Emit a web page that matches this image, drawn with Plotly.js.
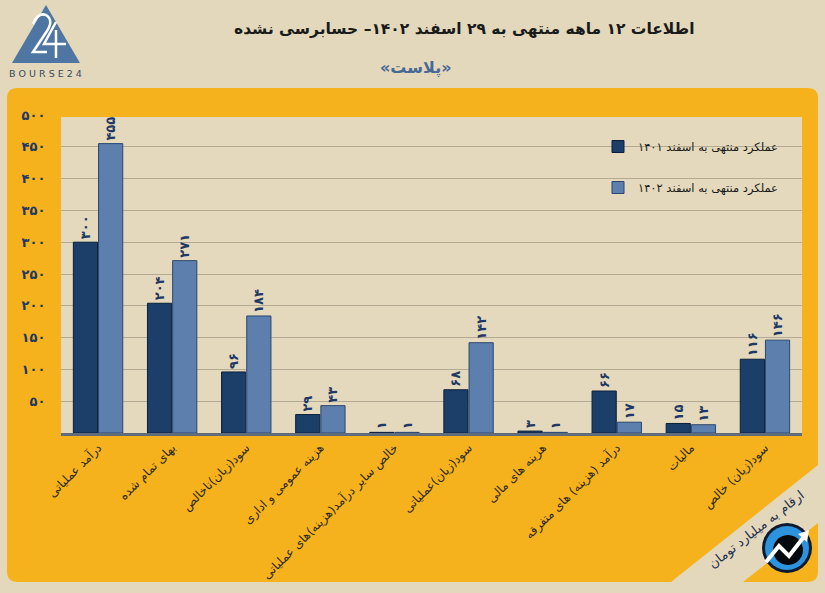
<!DOCTYPE html>
<html>
<head>
<meta charset="utf-8">
<script src="https://cdn.plot.ly/plotly-3.0.1.min.js"></script>
<style>html,body{margin:0;padding:0;background:#E3D8BB;}#chart{width:825px;height:593px;}</style>
</head>
<body>
<div id="chart"></div>
<script>
// ---- data ----
const categories = [
  'درآمد عملیاتی',
  'بهای تمام شده',
  'سود(زیان)ناخالص',
  'هزینه عمومی و اداری',
  'خالص سایر درآمد(هزینه)های عملیاتی',
  'سود(زیان)عملیاتی',
  'هزینه های مالی',
  'درآمد (هزینه) های متفرقه',
  'مالیات',
  'سود(زیان) خالص'
];
const values1401 = [300, 204, 96, 29, 1, 68, 3, 66, 15, 116];
const values1402 = [455, 271, 184, 43, 1, 142, 1, 17, 13, 146];
const seriesNames = ['عملکرد منتهی به اسفند ۱۴۰۱', 'عملکرد منتهی به اسفند ۱۴۰۲'];
const yTickVals = [50, 100, 150, 200, 250, 300, 350, 400, 450, 500];
const yTickText = ['۵۰', '۱۰۰', '۱۵۰', '۲۰۰', '۲۵۰', '۳۰۰', '۳۵۰', '۴۰۰', '۴۵۰', '۵۰۰'];
const titleText = 'اطلاعات ۱۲ ماهه منتهی به ۲۹ اسفند ۱۴۰۲– حسابرسی نشده';
const subtitleText = '«پلاست»';
const unitText = 'ارقام به میلیارد تومان';

// ---- helpers ----
const fa = v => String(v).replace(/\d/g, d => '۰۱۲۳۴۵۶۷۸۹'[d]);
const W = 825, H = 593;
const M = {l: 61, r: 23, t: 115, b: 160};
const PW = W - M.l - M.r, PH = H - M.t - M.b;
const px = x => (x - M.l) / PW;
const py = y => (H - M.b - y) / PH;
const P = (x, y) => px(x).toFixed(5) + ',' + py(y).toFixed(5);

function roundRect(x0, y0, x1, y1, r) {
  return 'M' + P(x0 + r, y0) + ' L' + P(x1 - r, y0) + ' Q' + P(x1, y0) + ' ' + P(x1, y0 + r) +
    ' L' + P(x1, y1 - r) + ' Q' + P(x1, y1) + ' ' + P(x1 - r, y1) +
    ' L' + P(x0 + r, y1) + ' Q' + P(x0, y1) + ' ' + P(x0, y1 - r) +
    ' L' + P(x0, y0 + r) + ' Q' + P(x0, y0) + ' ' + P(x0 + r, y0) + ' Z';
}
function poly(pts) {
  return 'M' + pts.map(p => P(p[0], p[1])).join(' L') + ' Z';
}
function circlePath(cx, cy, r) {
  let s = '';
  const n = 28;
  for (let i = 0; i <= n; i++) {
    const a = i / n * 2 * Math.PI;
    s += (i === 0 ? 'M' : ' L') + P(cx + r * Math.cos(a), cy + r * Math.sin(a));
  }
  return s + ' Z';
}

const FONT = 'DejaVu Sans, Noto Sans, sans-serif';
const ORANGE = '#F6B21C';
const BEIGE = '#E3D8BB';

const traces = [
  {
    type: 'bar', name: seriesNames[0], x: categories, y: values1401,
    legendgroup: 'a',
    marker: {color: '#1C3F6A', line: {color: '#0B1F3A', width: 1}},
    text: values1401.map(fa), textposition: 'outside', textangle: -90,
    constraintext: 'none', cliponaxis: false,
    textfont: {family: FONT, size: 13, color: '#1F3864', weight: 'bold'},
    hoverinfo: 'x+y'
  },
  {
    type: 'bar', name: seriesNames[1], x: categories, y: values1402,
    legendgroup: 'b',
    marker: {color: '#5D7FAD', line: {color: '#2B4770', width: 1}},
    text: values1402.map(fa), textposition: 'outside', textangle: -90,
    constraintext: 'none', cliponaxis: false,
    textfont: {family: FONT, size: 13, color: '#1F3864', weight: 'bold'},
    hoverinfo: 'x+y'
  }
];

const shapes = [
  {type: 'path', xref: 'paper', yref: 'paper', layer: 'below', path: roundRect(7, 88, 818, 582, 10),
   fillcolor: ORANGE, line: {width: 0}},
  {type: 'path', xref: 'paper', yref: 'paper', layer: 'below', path: poly([[61, 117], [802, 117], [802, 433], [61, 433]]),
   fillcolor: '#E4D9BC', line: {width: 0}},
  {type: 'path', xref: 'paper', yref: 'paper', layer: 'below',
   path: poly([[818, 465], [818, 523], [743, 582], [671, 582]]),
   fillcolor: BEIGE, line: {width: 0}},
  // logo triangle
  {type: 'path', xref: 'paper', yref: 'paper', layer: 'above',
   path: poly([[46, 5], [80, 63], [12, 63]]), fillcolor: '#4F76A2', line: {width: 0}},
  {type: 'path', xref: 'paper', yref: 'paper', layer: 'above',
   path: 'M' + P(33, 24) + ' Q' + P(38, 12) + ' ' + P(46, 15) + ' Q' + P(54, 20) + ' ' + P(47, 31) +
         ' L' + P(33, 52) + ' L' + P(47, 52),
   line: {color: '#FFFFFF', width: 2.5}},
  {type: 'path', xref: 'paper', yref: 'paper', layer: 'above',
   path: 'M' + P(56, 22) + ' L' + P(44, 44) + ' L' + P(66, 44) + ' M' + P(56, 30) + ' L' + P(56, 58),
   line: {color: '#FFFFFF', width: 2.5}},
  // icon
  {type: 'path', xref: 'paper', yref: 'paper', layer: 'above', path: circlePath(787, 548, 25),
   fillcolor: '#0B1A2E', line: {width: 0}},
  {type: 'path', xref: 'paper', yref: 'paper', layer: 'above', path: circlePath(787, 548, 22),
   fillcolor: '#2D93DC', line: {width: 0}},
  {type: 'path', xref: 'paper', yref: 'paper', layer: 'above', path: circlePath(788, 550, 15),
   fillcolor: '#05080D', line: {width: 0}},
  {type: 'path', xref: 'paper', yref: 'paper', layer: 'above',
   path: 'M' + P(766, 562) + ' L' + P(779, 546) + ' L' + P(789, 556) + ' L' + P(803, 538),
   line: {color: '#FFFFFF', width: 4}},
  {type: 'path', xref: 'paper', yref: 'paper', layer: 'above',
   path: poly([[798, 534], [809, 530], [807, 542]]), fillcolor: '#FFFFFF', line: {width: 0}}
];

const annotations = [
  {text: titleText, xref: 'paper', yref: 'paper', x: px(464), y: py(29), xanchor: 'center', yanchor: 'middle',
   showarrow: false, font: {family: FONT, size: 15.5, color: '#1A1A1A', weight: 'bold'}},
  {text: subtitleText, xref: 'paper', yref: 'paper', x: px(416), y: py(68), xanchor: 'center', yanchor: 'middle',
   showarrow: false, font: {family: FONT, size: 16, color: '#4A6894', weight: 'bold'}},
  {text: 'B O U R S E 2 4', xref: 'paper', yref: 'paper', x: px(45), y: py(73), xanchor: 'center', yanchor: 'middle',
   showarrow: false, font: {family: 'DejaVu Sans, sans-serif', size: 9.5, color: '#3B4A5C'}},
  {text: unitText, xref: 'paper', yref: 'paper', x: px(756), y: py(530), xanchor: 'center', yanchor: 'middle',
   showarrow: false, textangle: -38, font: {family: FONT, size: 13, color: '#1F3050'}}
];

const layout = {
  width: W, height: H,
  margin: M,
  paper_bgcolor: BEIGE,
  plot_bgcolor: 'rgba(0,0,0,0)',
  barmode: 'group',
  bargap: 0.32,
  bargroupgap: 0.04,
  showlegend: true,
  legend: {
    x: px(598), y: py(132), xanchor: 'left', yanchor: 'top',
    bgcolor: 'rgba(0,0,0,0)', traceorder: 'grouped', tracegroupgap: 22,
    font: {family: FONT, size: 11.5, color: '#1A1A1A'}
  },
  xaxis: {
    type: 'category',
    tickangle: -45,
    tickfont: {family: FONT, size: 12, color: '#2E2A20'},
    showline: true, linecolor: '#5E6C7C', linewidth: 3,
    ticks: '', showgrid: false, zeroline: false, fixedrange: true
  },
  yaxis: {
    range: [0, 500],
    tickvals: yTickVals, ticktext: yTickText,
    tickfont: {family: FONT, size: 13, color: '#1F3864', weight: 'bold'},
    ticks: 'outside', ticklen: 12, tickcolor: 'rgba(0,0,0,0)',
    showgrid: true, gridcolor: '#B3AA94', gridwidth: 1,
    zeroline: false, showline: false, fixedrange: true
  },
  shapes: shapes,
  annotations: annotations
};

Plotly.newPlot('chart', traces, layout, {displayModeBar: false, staticPlot: true});
</script>
</body>
</html>
